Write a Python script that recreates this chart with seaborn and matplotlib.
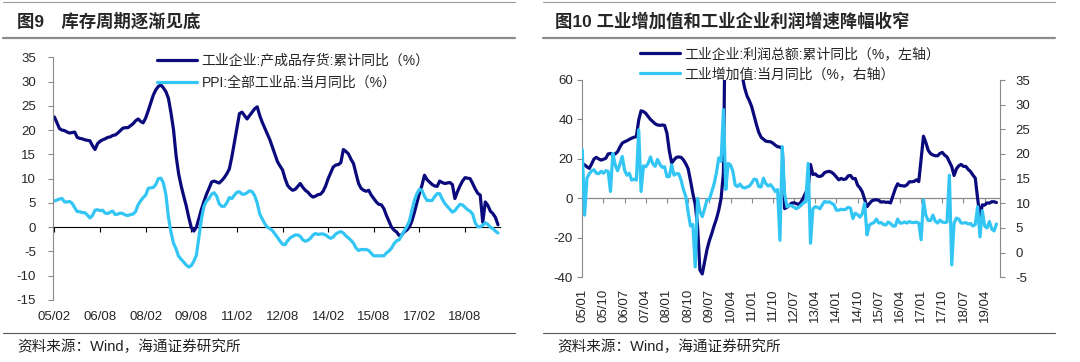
# Haitong charts: inventory cycle (fig 9) and IVA / profit growth (fig 10)

import numpy as np
import pandas as pd
import matplotlib.pyplot as plt
import seaborn as sns
from matplotlib.lines import Line2D


# ---------------- data ----------------
# Fig 9, monthly from 2005-02 to 2019-09
left_start = '2005-02'
inventory_yoy = [
    22.7, 21.5, 20.3, 20.0, 19.9, 19.6, 19.4, 19.5, 19.6, 18.5, 18.3,                 # 2005
    18.2, 18.0, 17.9, 17.8, 16.8, 16.0, 17.2, 17.7, 18.0, 18.2, 18.5, 18.6,           # 2006
    18.9, 19.0, 19.4, 19.9, 20.4, 20.5, 20.5, 20.9, 21.3, 21.9, 22.3, 21.8,           # 2007
    21.5, 22.5, 24.0, 25.6, 27.2, 28.3, 29.0, 29.3, 28.7, 27.9, 26.5, 23.5,           # 2008
    20.0, 14.7, 11.0, 8.5, 6.4, 4.4, 2.0, -0.1, -0.8, 0.0, 1.8, 3.7,                  # 2009
    5.3, 6.8, 8.0, 9.3, 9.5, 9.3, 9.1, 9.6, 10.2, 11.0, 12.0, 14.5,                   # 2010
    17.5, 20.5, 23.4, 23.7, 23.0, 22.3, 23.0, 23.7, 24.4, 24.8, 23.0, 21.6,           # 2011
    20.4, 19.2, 18.0, 16.5, 15.0, 13.5, 12.6, 11.8, 10.0, 8.6, 8.0, 7.6,              # 2012
    7.8, 8.4, 9.0, 8.2, 7.6, 7.2, 6.6, 6.2, 6.4, 6.7, 6.8, 7.4,                       # 2013
    8.5, 10.0, 11.2, 12.4, 12.8, 12.9, 13.3, 16.0, 15.6, 15.1, 14.0, 13.1,            # 2014
    11.0, 9.0, 8.0, 7.6, 7.4, 7.6, 6.6, 5.9, 5.2, 4.7, 4.6, 3.8,                      # 2015
    2.4, 1.2, 0.0, -0.6, -1.0, -1.7, -1.6, -1.0, -0.6, 0.0, 1.2, 3.0,                 # 2016
    5.0, 7.0, 8.6, 10.7, 9.8, 9.3, 8.8, 8.5, 8.4, 9.5, 9.2, 9.0,                      # 2017
    9.1, 9.2, 8.8, 5.9, 7.3, 8.5, 9.5, 10.2, 10.1, 10.0, 9.0, 7.9,                    # 2018
    7.0, 6.6, 1.0, 5.2, 4.5, 3.3, 2.8, 2.0, 0.5,                                      # 2019
]
ppi_yoy = [
    5.4, 5.6, 5.8, 5.9, 5.2, 5.2, 5.3, 4.9, 4.0, 3.2, 3.2,
    3.0, 3.0, 2.5, 1.9, 2.4, 3.5, 3.6, 3.4, 3.5, 2.9, 2.8, 3.1,
    3.3, 2.6, 2.7, 2.9, 2.8, 2.5, 2.4, 2.6, 2.7, 3.2, 4.6, 5.4,
    6.1, 6.6, 8.0, 8.1, 8.2, 8.8, 10.0, 10.1, 9.1, 6.6, 2.0, -1.1,
    -3.3, -4.5, -6.0, -6.6, -7.2, -7.8, -8.2, -7.9, -7.0, -5.8, -2.1, 1.7,
    4.3, 5.4, 5.9, 6.8, 7.1, 6.4, 4.8, 4.3, 4.3, 5.0, 6.1, 5.9,
    6.6, 7.2, 7.3, 6.8, 6.8, 7.1, 7.5, 7.3, 6.5, 5.0, 2.7, 1.7,
    0.7, 0.0, -0.3, -0.7, -1.4, -2.1, -2.9, -3.5, -3.6, -2.8, -2.2, -1.9,
    -1.6, -1.6, -1.9, -2.6, -2.9, -2.7, -2.3, -1.6, -1.3, -1.5, -1.4, -1.4,
    -1.6, -2.0, -2.3, -2.0, -1.4, -1.1, -0.9, -1.2, -1.8, -2.2, -2.7, -3.3,
    -4.3, -4.8, -4.6, -4.6, -4.6, -4.8, -5.4, -5.9, -5.9, -5.9, -5.9, -5.9,
    -5.3, -4.9, -4.3, -3.4, -2.8, -2.6, -1.7, -0.8, 0.1, 1.2, 3.3, 5.5,
    6.9, 7.8, 7.6, 6.4, 5.5, 5.5, 5.5, 6.3, 6.9, 6.9, 5.8, 4.9,
    4.3, 3.7, 3.1, 3.4, 4.1, 4.7, 4.6, 4.1, 3.6, 3.3, 2.7, 0.9,
    0.1, 0.1, 0.4, 0.9, 0.6, 0.0, -0.3, -0.8, -1.2,
]
left_labels = ['05/02', '06/08', '08/02', '09/08', '11/02',
               '12/08', '14/02', '15/08', '17/02', '18/08']
left_names = ['工业企业:产成品存货:累计同比（%）', 'PPI:全部工业品:当月同比（%）']

# Fig 10, monthly from 2005-01 to 2019-09
right_start = '2005-01'
profit_yoy = [
    17.7, 17.0, 16.0, 15.2, 17.5, 20.0, 20.8, 20.0, 19.4, 19.8, 20.3, 22.5,
    22.8, 22.0, 22.5, 23.6, 26.0, 28.0, 28.7, 29.2, 29.9, 30.5, 31.0, 31.3,
    39.7, 44.4, 44.0, 43.1, 41.5, 40.0, 38.9, 37.8, 37.2, 37.0, 37.2, 37.0,
    33.0, 24.0, 18.0, 19.5, 20.8, 21.0, 20.8, 19.5, 17.5, 15.0, 9.0, 2.5,
    -3.0, -14.0, -36.3, -38.3, -32.0, -26.0, -21.5, -18.0, -14.0, -10.5, -6.0, 0.0,
    13.0, 119.7, 119.7, 101.0, 81.6, 85.0, 72.7, 66.0, 62.0, 56.0, 52.0, 49.5,
    46.5, 42.0, 37.5, 33.5, 31.0, 30.0, 29.0, 28.8, 28.7, 28.0, 27.0, 26.2,
    26.0, 25.4, -5.2, -4.5, -3.5, -2.4, -2.2, -2.7, -3.1, -1.8, 0.5, 3.0,
    5.3, 17.2, 12.1, 12.4, 11.3, 11.1, 11.6, 13.1, 13.5, 13.7, 13.2, 12.2,
    10.8, 9.4, 10.1, 9.6, 9.8, 11.4, 11.6, 10.0, 10.1, 6.7, 5.3, 3.3,
    -0.5, -4.2, -2.7, -1.3, -0.8, -0.7, -1.0, -1.9, -1.7, -2.0, -1.9, -2.3,
    1.2, 4.8, 7.4, 6.5, 6.4, 6.2, 6.9, 8.4, 8.4, 8.6, 9.4, 8.5,
    20.0, 31.5, 28.3, 24.4, 22.7, 22.0, 21.6, 21.6, 22.8, 23.3, 21.9, 21.0,
    18.5, 16.1, 11.6, 15.0, 16.5, 17.2, 16.2, 16.2, 14.7, 13.6, 11.8, 10.3,
    0.0, -9.5, -3.3, -3.4, -2.3, -2.4, -1.7, -1.7, -2.1,
]
iva_yoy = [
    20.9, 7.6, 15.1, 16.0, 16.6, 16.8, 16.1, 16.0, 16.5, 16.1, 16.6, 16.5,
    12.4, 20.1, 17.8, 16.6, 17.9, 19.5, 16.7, 15.7, 16.1, 14.7, 14.9, 14.7,
    24.9, 12.4, 17.6, 17.4, 18.1, 19.4, 18.0, 17.5, 18.9, 17.9, 17.3, 17.4,
    15.4, 15.4, 17.8, 15.7, 16.0, 16.0, 14.7, 12.8, 11.4, 8.2, 5.4, 5.7,
    -2.9, 11.0, 8.3, 7.3, 8.9, 10.7, 10.8, 12.3, 13.9, 16.1, 19.2, 18.5,
    29.0, 12.8, 18.1, 17.8, 16.5, 13.7, 13.4, 13.9, 13.3, 13.1, 13.3, 13.5,
    14.1, 14.9, 14.8, 13.4, 13.3, 15.1, 14.0, 13.5, 13.8, 13.2, 12.4, 12.8,
    2.5, 21.5, 11.9, 9.3, 9.6, 9.5, 9.2, 8.9, 9.2, 9.6, 10.1, 10.3,
    18.1, 1.9, 8.9, 9.3, 9.2, 8.9, 9.7, 10.4, 10.2, 10.3, 10.0, 9.7,
    8.6, 8.6, 8.8, 8.7, 8.8, 9.2, 9.0, 6.9, 8.0, 7.7, 7.2, 7.9,
    10.0, 3.6, 5.6, 5.9, 6.1, 6.8, 6.0, 6.1, 5.7, 5.6, 6.2, 5.9,
    5.4, 5.4, 6.8, 6.0, 6.0, 6.2, 6.0, 6.3, 6.1, 6.1, 6.2, 6.0,
    2.6, 10.7, 7.6, 6.5, 6.5, 7.6, 6.4, 6.0, 6.6, 6.2, 6.1, 6.2,
    15.7, -2.5, 6.0, 7.0, 6.8, 6.0, 6.0, 6.1, 5.8, 5.9, 5.4, 5.7,
    9.3, 3.2, 8.5, 5.4, 5.0, 6.3, 4.8, 4.4, 5.8,
]
right_labels = ['05/01', '05/10', '06/07', '07/04', '08/01', '08/10', '09/07',
                '10/04', '11/01', '11/10', '12/07', '13/04', '14/01', '14/10',
                '15/07', '16/04', '17/01', '17/10', '18/07', '19/04']
right_names = ['工业企业:利润总额:累计同比（%，左轴）', '工业增加值:当月同比（%，右轴）']

DARK = '#0a0a7c'
LIGHT = '#33c6f4'
GREY = '#8a8a8a'

# ---------------- style ----------------
sns.set_style('ticks')
plt.rcParams['font.family'] = ['Liberation Sans', 'Noto Sans CJK SC', 'DejaVu Sans']
plt.rcParams['axes.unicode_minus'] = False

W, H = 1080, 362
fig = plt.figure(figsize=(W / 100, H / 100), dpi=100)


def box(x0, y0, x1, y1):
    # pixel box (top-left origin) -> figure fraction rect
    return [x0 / W, 1 - y1 / H, (x1 - x0) / W, (y1 - y0) / H]


def hline(x0, x1, y, lw, color):
    fig.add_artist(Line2D([x0 / W, x1 / W], [1 - y / H, 1 - y / H],
                          transform=fig.transFigure, lw=lw, color=color))


def tick_positions(periods, labels):
    return [periods.get_loc(pd.Period('20' + s.replace('/', '-'), freq='M')) for s in labels]


# ---------------- fig 9 ----------------
left_periods = pd.period_range(left_start, periods=len(inventory_yoy), freq='M')
left_df = pd.DataFrame({'x': np.arange(len(left_periods)),
                        'inventory': inventory_yoy, 'ppi': ppi_yoy})

ax = fig.add_axes(box(53.3, 57.3, 499.5, 300))
sns.lineplot(data=left_df, x='x', y='inventory', ax=ax, color=DARK, lw=2.3)
sns.lineplot(data=left_df, x='x', y='ppi', ax=ax, color=LIGHT, lw=2.3)
ax.set_xlim(-0.45, len(left_periods) - 0.4)
ax.set_ylim(-15, 35)
ax.set_yticks(range(-15, 36, 5))
ax.set_xlabel('')
ax.set_ylabel('')
lpos = tick_positions(left_periods, left_labels)
ax.set_xticks(lpos)
ax.set_xticklabels(left_labels)
ax.tick_params(axis='x', length=0, pad=8, labelsize=9.5)
ax.tick_params(axis='y', length=3.5, width=0.8, color=GREY, pad=9, labelsize=9.5)
for s in ['top', 'right', 'bottom']:
    ax.spines[s].set_visible(False)
ax.spines['left'].set_color(GREY)
ax.spines['left'].set_linewidth(0.8)

zero = ax.secondary_xaxis(15 / 50)
zero.set_xticks(lpos)
zero.set_xticklabels([])
zero.tick_params(axis='x', bottom=True, length=3.5, width=0.8, color='black')
zero.spines['bottom'].set_color('black')
zero.spines['bottom'].set_linewidth(0.8)

ax.legend(ax.get_lines()[:2], left_names, loc='upper left',
          bbox_to_anchor=(157 / W, 1 - 53.5 / H), bbox_transform=fig.transFigure,
          frameon=False, fontsize=10, handlelength=2.9, handletextpad=0.3,
          labelspacing=0.6, borderpad=0, borderaxespad=0)

# ---------------- fig 10 ----------------
right_periods = pd.period_range(right_start, periods=len(profit_yoy), freq='M')
right_df = pd.DataFrame({'x': np.arange(len(right_periods)),
                         'profit': profit_yoy, 'iva': iva_yoy})

bx = fig.add_axes(box(582, 80, 999.5, 277.3))
sns.lineplot(data=right_df, x='x', y='profit', ax=bx, color=DARK, lw=2.3)
bx.set_xlim(-0.1, len(right_periods) + 0.3)
bx.set_ylim(-40, 60)
bx.set_yticks(range(-40, 61, 20))
bx.set_xlabel('')
bx.set_ylabel('')
rpos = tick_positions(right_periods, right_labels)
bx.set_xticks(rpos)
bx.set_xticklabels(right_labels, rotation=90)
bx.tick_params(axis='x', length=0, pad=8, labelsize=9.5)
bx.tick_params(axis='y', length=3.5, width=0.8, color=GREY, pad=3, labelsize=9.5)
for s in ['top', 'right', 'bottom']:
    bx.spines[s].set_visible(False)
bx.spines['left'].set_color(GREY)
bx.spines['left'].set_linewidth(0.8)

bx2 = bx.twinx()
sns.lineplot(data=right_df, x='x', y='iva', ax=bx2, color=LIGHT, lw=2.3)
bx2.set_ylim(-5, 35)
bx2.set_yticks(range(-5, 36, 5))
bx2.set_ylabel('')
bx2.tick_params(axis='y', right=True, length=3.5, width=0.8, color=GREY, pad=8, labelsize=9.5)
for s in ['top', 'left', 'bottom']:
    bx2.spines[s].set_visible(False)
bx2.spines['right'].set_color(GREY)
bx2.spines['right'].set_linewidth(0.8)

zero2 = bx.secondary_xaxis(40 / 100)
zero2.set_xticks(rpos)
zero2.set_xticklabels([])
zero2.tick_params(axis='x', bottom=True, length=3.5, width=0.8, color=GREY)
zero2.spines['bottom'].set_color(GREY)
zero2.spines['bottom'].set_linewidth(0.9)

bx2.legend(bx.get_lines()[:1] + bx2.get_lines()[:1], right_names, loc='upper left',
           bbox_to_anchor=(640 / W, 1 - 47 / H), bbox_transform=fig.transFigure,
           frameon=False, fontsize=10, handlelength=2.9, handletextpad=0.3,
           labelspacing=0.45, borderpad=0, borderaxespad=0)

# ---------------- titles, rules, sources ----------------
fig.text(17 / W, 1 - 21 / H, '图9\u3000库存周期逐渐见底', fontsize=12.5,
         fontweight='bold', va='center', ha='left')
fig.text(555 / W, 1 - 21 / H, '图10 工业增加值和工业企业利润增速降幅收窄', fontsize=12.5,
         fontweight='bold', va='center', ha='left')
for x0, x1 in [(3, 515), (543, 1055)]:
    hline(x0, x1, 1.5, 0.8, '#9a9a9a')
    hline(x0, x1, 37.5, 1.6, '#8c8c8c')
    hline(x0, x1, 332.5, 0.8, '#555555')
fig.text(17 / W, 1 - 347 / H, '资料来源：Wind，海通证券研究所', fontsize=10.5,
         va='center', ha='left', color='#222222')
fig.text(557 / W, 1 - 347 / H, '资料来源：Wind，海通证券研究所', fontsize=10.5,
         va='center', ha='left', color='#222222')

fig.savefig('out.png', dpi=100)
